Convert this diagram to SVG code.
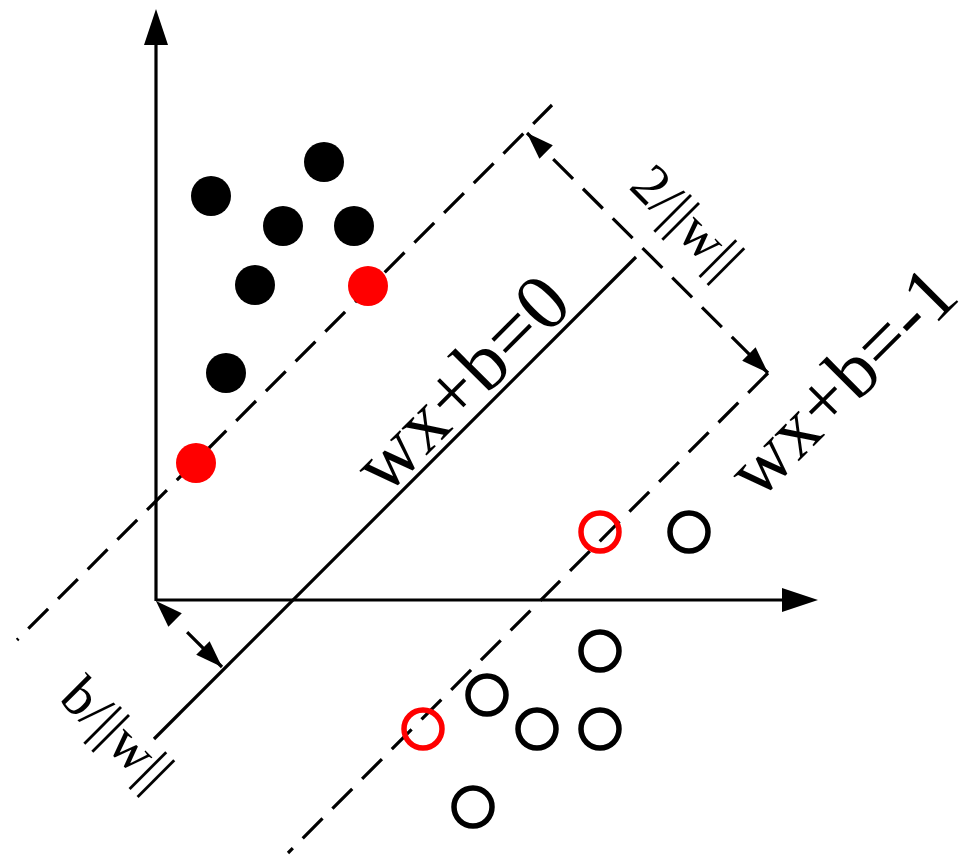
<svg xmlns="http://www.w3.org/2000/svg" width="977" height="859" viewBox="0 0 977 859">
  <style>
    .ax { stroke: #000; stroke-width: 3.2; fill: none; }
    .solid { stroke: #000; stroke-width: 3.2; fill: none; }
    .dash { stroke: #000; stroke-width: 3.2; fill: none; stroke-dasharray: 28 14; }
    .pos { fill: #000; }
    .sv-pos { fill: #ff0000; }
    .neg { fill: none; stroke: #000; stroke-width: 5.5; }
    .sv-neg { fill: none; stroke: #ff0000; stroke-width: 5.5; }
    .lbl { font-family: "Liberation Serif", "Times New Roman", serif; fill: #000; }
  </style>
  <defs>
    <marker id="axArrow" markerUnits="userSpaceOnUse" viewBox="0 0 36 24" markerWidth="36" markerHeight="24" refX="0" refY="12" orient="auto">
      <path d="M0,0 L36,12 L0,24 z" fill="#000"/>
    </marker>
    <marker id="dimArrow" markerUnits="userSpaceOnUse" viewBox="0 0 27 19" markerWidth="27" markerHeight="19" refX="27" refY="9.5" orient="auto-start-reverse">
      <path d="M0,0 L27,9.5 L0,19 z" fill="#000"/>
    </marker>
  </defs>
  <rect width="977" height="859" fill="#fff"/>

  <g id="connectors">
    <line id="y-axis" class="ax" x1="156" y1="601" x2="156" y2="45" marker-end="url(#axArrow)"/>
    <line id="x-axis" class="ax" x1="156" y1="600" x2="782" y2="600" marker-end="url(#axArrow)"/>
    <line id="hyperplane" class="solid" x1="154" y1="739" x2="636" y2="257"/>
    <line id="margin-pos" class="dash" x1="17" y1="640" x2="552" y2="105" stroke-dashoffset="26"/>
    <line id="margin-neg" class="dash" x1="768" y1="373" x2="288" y2="853"/>
    <line id="margin-width" class="dash" x1="527" y1="133" x2="768" y2="373" stroke-dashoffset="5" marker-start="url(#dimArrow)" marker-end="url(#dimArrow)"/>
    <line id="offset-b" class="solid" x1="156" y1="601" x2="222" y2="667" stroke-dasharray="0 44 60" marker-start="url(#dimArrow)" marker-end="url(#dimArrow)"/>
  </g>

  <g id="positive-points">
    <circle class="pos" cx="324" cy="162" r="20"/>
    <circle class="pos" cx="211" cy="196" r="20"/>
    <circle class="pos" cx="283" cy="226" r="20"/>
    <circle class="pos" cx="354" cy="226" r="20"/>
    <circle class="pos" cx="255" cy="285" r="20"/>
    <circle class="pos" cx="226" cy="373" r="20"/>
  </g>
  <g id="positive-support-vectors">
    <circle class="sv-pos" cx="368" cy="286" r="20"/>
    <circle class="sv-pos" cx="196" cy="463" r="20"/>
  </g>
  <g id="negative-points">
    <circle class="neg" cx="689" cy="532" r="19"/>
    <circle class="neg" cx="600" cy="651" r="19"/>
    <circle class="neg" cx="487" cy="695" r="19"/>
    <circle class="neg" cx="537" cy="729" r="19"/>
    <circle class="neg" cx="600" cy="729" r="19"/>
    <circle class="neg" cx="473" cy="807" r="19"/>
  </g>
  <g id="negative-support-vectors">
    <circle class="sv-neg" cx="600" cy="532" r="19"/>
    <circle class="sv-neg" cx="423" cy="729" r="19"/>
  </g>

  <g id="labels">
    <text id="label-hyperplane" class="lbl" font-size="80" text-anchor="middle" transform="translate(480,402) rotate(-45)">wx+b=0</text>
    <text id="label-margin-neg" class="lbl" font-size="78" text-anchor="middle" transform="translate(860,400) rotate(-45)">wx+b=-1</text>
    <text id="label-width" class="lbl" font-size="57" text-anchor="middle" transform="translate(674,234) rotate(45)">2/||w||</text>
    <text id="label-offset" class="lbl" font-size="57" text-anchor="middle" transform="translate(104,746) rotate(45)">b/||w||</text>
  </g>
</svg>
